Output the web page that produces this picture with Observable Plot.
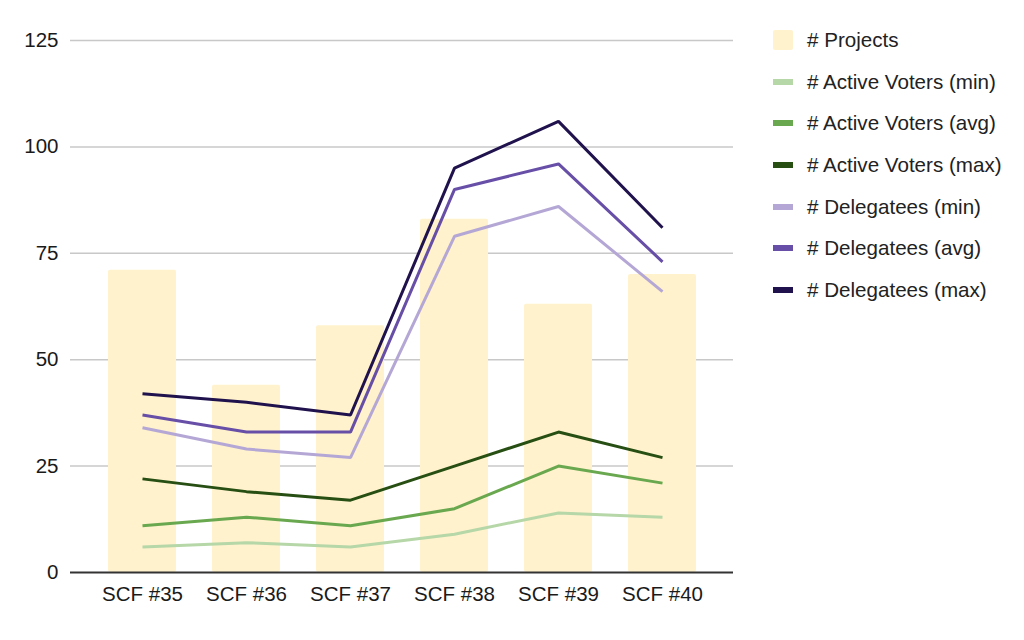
<!DOCTYPE html>
<html>
<head>
<meta charset="utf-8">
<script src="https://cdn.jsdelivr.net/npm/d3@7"></script>
<script src="https://cdn.jsdelivr.net/npm/@observablehq/plot@0.6"></script>
<style>
  body { margin: 0; background: #fff; font-family: Arial, "Liberation Sans", sans-serif; }
  #wrap { position: relative; width: 1024px; height: 640px; }
  #chart { position: absolute; left: 0; top: 0; }
  #legend { position: absolute; left: 773px; top: 19.2px; font-size: 20.6px; color: #222; }
  .row { display: flex; align-items: center; height: 41.7px; }
  .sw { width: 20px; margin-right: 14px; flex: none; }
  .lbl { white-space: nowrap; line-height: 22px; }
</style>
</head>
<body>
<div id="wrap">
  <div id="chart"></div>
  <div id="legend"></div>
</div>
<script>
const rounds = ["SCF #35", "SCF #36", "SCF #37", "SCF #38", "SCF #39", "SCF #40"];
const projects = [71, 44, 58, 83, 63, 70];
const activeMin = [6, 7, 6, 9, 14, 13];
const activeAvg = [11, 13, 11, 15, 25, 21];
const activeMax = [22, 19, 17, 25, 33, 27];
const delMin = [34, 29, 27, 79, 86, 66];
const delAvg = [37, 33, 33, 90, 96, 73];
const delMax = [42, 40, 37, 95, 106, 81];
const yTicks = [0, 25, 50, 75, 100, 125];

const seriesNames = [
  "# Active Voters (min)", "# Active Voters (avg)", "# Active Voters (max)",
  "# Delegatees (min)", "# Delegatees (avg)", "# Delegatees (max)"
];
const seriesValues = [activeMin, activeAvg, activeMax, delMin, delAvg, delMax];
const seriesColors = ["#b6d7a8", "#6aa84f", "#274e13", "#b4a7d6", "#674ea7", "#20124d"];
const barColor = "#fff2cc";

const barData = rounds.map((r, i) => ({round: r, value: projects[i]}));
const lineData = seriesNames.flatMap((s, k) =>
  rounds.map((r, i) => ({series: s, round: r, value: seriesValues[k][i]})));

const chart = Plot.plot({
  width: 750,
  height: 620,
  marginTop: 40,
  marginBottom: 48,
  marginLeft: 70,
  marginRight: 17,
  style: {fontFamily: "Arial, 'Liberation Sans', sans-serif", fontSize: "20.5px", color: "#1a1a1a", background: "#fff"},
  x: {domain: rounds, padding: 0.35, label: null, tickSize: 0, tickPadding: 14},
  y: {domain: [0, 125], ticks: yTicks, label: null, tickSize: 0, tickPadding: 12},
  color: {domain: seriesNames, range: seriesColors},
  marks: [
    Plot.gridY(yTicks.filter(t => t > 0), {stroke: "#c8c8c8", strokeOpacity: 1, strokeWidth: 1.5}),
    Plot.barY(barData, {x: "round", y: "value", fill: barColor, rx: 2}),
    Plot.ruleY([0], {stroke: "#333", strokeWidth: 2}),
    Plot.line(lineData, {x: "round", y: "value", z: "series", stroke: "series",
      strokeWidth: 3, strokeLinejoin: "miter", strokeLinecap: "butt"})
  ]
});
document.getElementById("chart").appendChild(chart);

const legend = document.getElementById("legend");
const items = [{name: "# Projects", color: barColor, bar: true}]
  .concat(seriesNames.map((n, i) => ({name: n, color: seriesColors[i], bar: false})));
items.forEach(it => {
  const row = document.createElement("div");
  row.className = "row";
  const sw = document.createElement("div");
  sw.className = "sw";
  sw.style.background = it.color;
  sw.style.height = it.bar ? "20px" : "6px";
  if (it.bar) sw.style.borderRadius = "2px";
  const lbl = document.createElement("div");
  lbl.className = "lbl";
  lbl.textContent = it.name;
  row.appendChild(sw);
  row.appendChild(lbl);
  legend.appendChild(row);
});
</script>
</body>
</html>
